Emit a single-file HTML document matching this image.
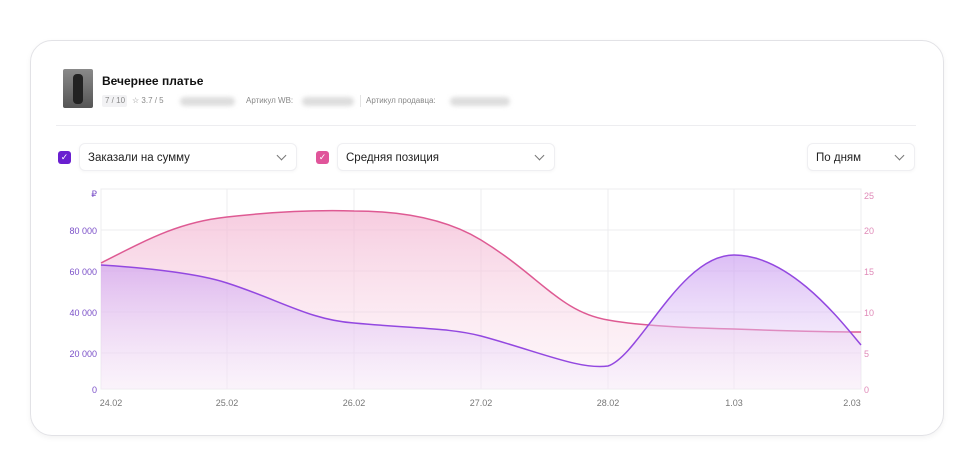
<!DOCTYPE html>
<html><head><meta charset="utf-8"><style>
body{margin:0;width:974px;height:475px;background:#fff;font-family:"Liberation Sans",sans-serif;position:relative;overflow:hidden}
.card{position:absolute;left:30px;top:40px;width:912px;height:394px;border:1px solid #e2e2e6;border-radius:22px;box-shadow:0 2px 6px rgba(0,0,0,.05)}
.abs{position:absolute}
.sel{position:absolute;height:28px;border:1px solid #efeff2;border-radius:6px;background:#fff;font-size:11.5px;color:#222;line-height:28px;padding-left:8px;box-sizing:border-box;box-shadow:0 1px 3px rgba(0,0,0,.04)}
.chev{position:absolute;right:11px;top:8px;width:6px;height:6px;border-right:1.2px solid #777;border-bottom:1.2px solid #777;transform:rotate(45deg)}
.cb{position:absolute;width:13px;height:13px;border-radius:3px;color:#fff;font-size:9px;line-height:13px;text-align:center}
.blur{position:absolute;height:9px;background:#ddd;border-radius:5px;filter:blur(2px)}
.sm{position:absolute;font-size:8px;color:#888}
</style></head><body>
<div class="card"></div>
<div class="abs" style="left:63px;top:69px;width:30px;height:39px;background:linear-gradient(#8a8a8a,#555);border-radius:2px"></div>
<div class="abs" style="left:73px;top:74px;width:10px;height:30px;background:#222;border-radius:4px"></div>
<div class="abs" style="left:102px;top:74px;font-size:12px;font-weight:bold;color:#111">Вечернее платье</div>
<div class="abs" style="left:102px;top:95px;width:25px;height:12px;background:#f2f2f4;border-radius:2px"></div>
<div class="sm" style="left:105px;top:96px">7 / 10</div>
<div class="sm" style="left:132px;top:96px">☆ 3.7 / 5</div>
<div class="blur" style="left:180px;top:97px;width:55px"></div>
<div class="sm" style="left:246px;top:96px">Артикул WB:</div>
<div class="blur" style="left:302px;top:97px;width:52px"></div>
<div class="abs" style="left:360px;top:95px;width:1px;height:12px;background:#e4e4e4"></div>
<div class="sm" style="left:366px;top:96px">Артикул продавца:</div>
<div class="blur" style="left:450px;top:97px;width:60px"></div>
<div class="abs" style="left:56px;top:125px;width:860px;height:1px;background:#ededf0"></div>
<div class="cb" style="left:58px;top:151px;background:#6a1fd0">✓</div>
<div class="sel" style="left:79px;top:143px;width:218px">Заказали на сумму<div class="chev"></div></div>
<div class="cb" style="left:316px;top:151px;background:#e0559a">✓</div>
<div class="sel" style="left:337px;top:143px;width:218px">Средняя позиция<div class="chev"></div></div>
<div class="sel" style="left:807px;top:143px;width:108px">По дням<div class="chev"></div></div>
<svg class="abs" style="left:0;top:0" width="974" height="475">
<defs>
<linearGradient id="gp" x1="0" y1="0" x2="0" y2="1"><stop offset="0" stop-color="#f3b6d2" stop-opacity=".7"/><stop offset="1" stop-color="#fbe6f0" stop-opacity=".3"/></linearGradient>
<linearGradient id="gv" x1="0" y1="0" x2="0" y2="1"><stop offset="0" stop-color="#c99af0" stop-opacity=".65"/><stop offset="1" stop-color="#f3eafc" stop-opacity=".3"/></linearGradient>
</defs>
<g stroke="#ececef" stroke-width="1" fill="none">
<rect x="101" y="189" width="760" height="200"/>
<line x1="101" y1="230" x2="861" y2="230"/><line x1="101" y1="271" x2="861" y2="271"/><line x1="101" y1="312" x2="861" y2="312"/><line x1="101" y1="353" x2="861" y2="353"/>
<line x1="227" y1="189" x2="227" y2="389"/><line x1="354" y1="189" x2="354" y2="389"/><line x1="481" y1="189" x2="481" y2="389"/><line x1="608" y1="189" x2="608" y2="389"/><line x1="734" y1="189" x2="734" y2="389"/>
</g>
<path d="M101,263 C150,238 180,222 227,217 C280,211 320,210 354,211 C390,211 440,215 481,240 C540,276 560,312 608,320 C640,326 690,328 734,329 C790,331 830,332 861,332 L861,389 L101,389Z" fill="url(#gp)"/>
<path d="M101,263 C150,238 180,222 227,217 C280,211 320,210 354,211 C390,211 440,215 481,240 C540,276 560,312 608,320 C640,326 690,328 734,329 C790,331 830,332 861,332" fill="none" stroke="#de5a93" stroke-width="1.5"/>
<path d="M101,265 C150,268 200,274 227,283 C280,300 310,320 354,323 C420,329 450,328 481,336 C540,352 580,370 608,366 C640,355 680,255 734,255 C790,255 840,320 861,345 L861,389 L101,389Z" fill="url(#gv)"/>
<path d="M101,265 C150,268 200,274 227,283 C280,300 310,320 354,323 C420,329 450,328 481,336 C540,352 580,370 608,366 C640,355 680,255 734,255 C790,255 840,320 861,345" fill="none" stroke="#9348e0" stroke-width="1.5"/>
<g font-family="Liberation Sans" font-size="9" fill="#7a4fc8" text-anchor="end">
<text x="97" y="197">₽</text><text x="97" y="234">80 000</text><text x="97" y="275">60 000</text><text x="97" y="316">40 000</text><text x="97" y="357">20 000</text><text x="97" y="393">0</text>
</g>
<g font-family="Liberation Sans" font-size="9" fill="#e08ab8">
<text x="864" y="199">25</text><text x="864" y="234">20</text><text x="864" y="275">15</text><text x="864" y="316">10</text><text x="864" y="357">5</text><text x="864" y="393">0</text>
</g>
<g font-family="Liberation Sans" font-size="9" fill="#777" text-anchor="middle">
<text x="111" y="406">24.02</text><text x="227" y="406">25.02</text><text x="354" y="406">26.02</text><text x="481" y="406">27.02</text><text x="608" y="406">28.02</text><text x="734" y="406">1.03</text><text x="852" y="406">2.03</text>
</g>
</svg>
</body></html>
